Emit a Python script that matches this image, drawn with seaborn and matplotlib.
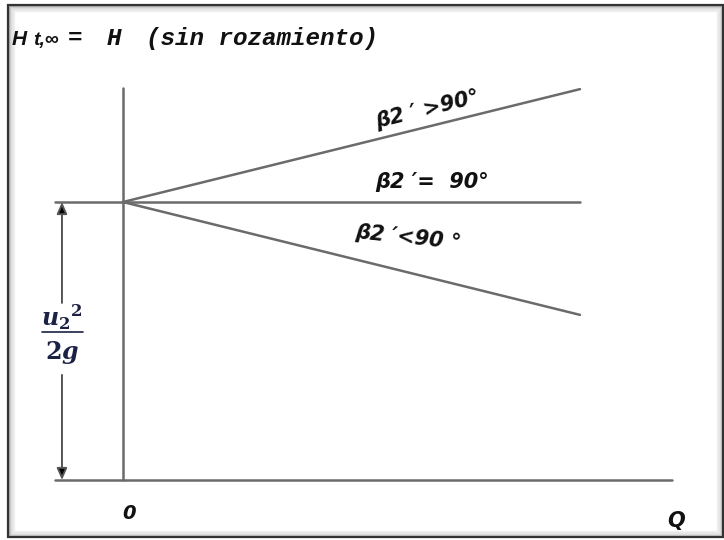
import matplotlib
matplotlib.use("Agg")
import matplotlib.pyplot as plt
from matplotlib.patches import Rectangle
import pandas as pd
import seaborn as sns

# Caudal (Q) y altura (H) de la curva teórica H(t,∞) para tres ángulos de salida
q = [0.0, 1.0]
h_mayor = [1.0, 1.406]   # β2' > 90°
h_igual = [1.0, 1.0]     # β2' = 90°
h_menor = [1.0, 0.594]   # β2' < 90°
casos = ["β2 ′ >90°", "β2 ′=  90°", "β2 ′<90 °"]

# Ejes del diagrama
q_eje = [0.0, 0.0]
h_eje = [0.0, 1.41]
q_base = [-0.149, 1.201]
h_base = [0.0, 0.0]
q_nivel = [-0.149, 0.0]
h_nivel = [1.0, 1.0]

sns.set_style("white")
plt.rcParams["font.family"] = ["DejaVu Sans"]
plt.rcParams["mathtext.fontset"] = "dejavuserif"

fig = plt.figure(figsize=(7.24, 5.4), dpi=100)
ax = fig.add_axes([0, 0, 1, 1])
ax.set_xlim(-0.2691, 1.3151)
ax.set_ylim(-0.2158, 1.7266)
ax.axis("off")

gris = "#6b6b6b"
lw = 1.8

df = pd.DataFrame({
    "Q": q * 3,
    "H": h_mayor + h_igual + h_menor,
    "caso": [casos[0]] * 2 + [casos[1]] * 2 + [casos[2]] * 2,
})
sns.lineplot(data=df, x="Q", y="H", hue="caso", units="caso", estimator=None,
             palette=[gris] * 3, legend=False, linewidth=lw, ax=ax)
# Eje vertical, línea base y prolongación del nivel u2²/2g
ax.plot(q_eje, h_eje, color=gris, linewidth=lw)
ax.plot(q_base, h_base, color=gris, linewidth=lw)
ax.plot(q_nivel, h_nivel, color=gris, linewidth=lw)

# Etiquetas de cada recta
fb = dict(fontweight="bold", fontstyle="italic", fontsize=15, color="#111111",
          ha="center", va="center", rotation_mode="anchor")
ax.text(0.667, 1.331, casos[0], rotation=13.9, **fb)
ax.text(0.676, 1.072, casos[1], rotation=0, **fb)
ax.text(0.624, 0.871, casos[2], rotation=-6, **fb)

# Cota u2²/2g
xc = -0.1335
flecha = dict(arrowstyle="-|>,head_length=0.5,head_width=0.22", ec="#555555",
              fc="black", lw=1.4, mutation_scale=14, shrinkA=0, shrinkB=0)
ax.annotate("", xy=(xc, 1.0), xytext=(xc, 0.637), arrowprops=flecha)
ax.annotate("", xy=(xc, 0.0), xytext=(xc, 0.378), arrowprops=flecha)
navy = "#1b2244"
ax.text(xc, 0.585, r"$\boldsymbol{u}_{\mathbf{2}}{}^{\mathbf{2}}$", fontsize=17,
        color=navy, ha="center", va="center")
ax.text(xc, 0.458, r"$\mathbf{2}\boldsymbol{g}$", fontsize=17,
        color=navy, ha="center", va="center")
ax.plot([-0.177, -0.0875], [0.532, 0.532], color=navy, lw=1.2)

# Título
tit = dict(fontweight="bold", fontstyle="italic", ha="left", va="baseline",
           color="#111111")
mono = ["Liberation Mono", "DejaVu Sans Mono"]
yb = 1.5647
ax.text(-0.2429, yb, "H", fontsize=15, family=["Liberation Sans"], **tit)
ax.text(-0.1975, yb, "t,∞", fontsize=14, family=["Liberation Sans", "DejaVu Sans"], **tit)
ax.text(-0.1204, yb, "=", fontsize=17.5, family=mono, **tit)
ax.text(-0.0350, yb, "H", fontsize=17.5, family=mono, **tit)
ax.text(0.0503, yb, "(sin rozamiento)", fontsize=17.5, family=mono, **tit)

# Rótulos de los ejes
ax.text(0.013, -0.122, "0", fontsize=14, fontweight="bold", fontstyle="italic",
        ha="center", va="center", color="#111111")
ax.text(1.21, -0.147, "Q", fontsize=15, fontweight="bold", fontstyle="italic",
        ha="center", va="center", color="#111111")

# Marco con sombra interior
W, Hh = 724.0, 540.0
x0, y0, x1, y1 = 8 / W, 3 / Hh, 723 / W, 535 / Hh
for i in range(7):
    dx, dy = i / W, i / Hh
    fig.patches.append(Rectangle((x0 + dx, y0 + dy), (x1 - x0) - 2 * dx,
                                 (y1 - y0) - 2 * dy, transform=fig.transFigure,
                                 fill=False, ec="#333333",
                                 lw=1.6 if i == 0 else 1.0,
                                 alpha=1.0 if i == 0 else 0.35 / i))

fig.savefig("out.png", dpi=100)
